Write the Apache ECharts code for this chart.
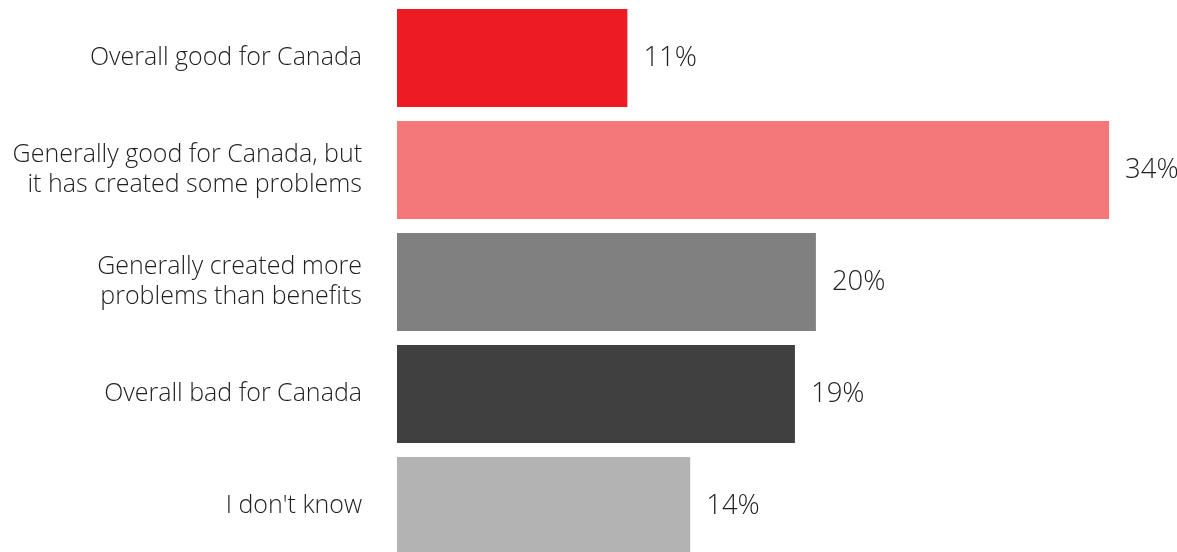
<!DOCTYPE html>
<html>
<head>
<meta charset="utf-8">
<style>
  html, body { margin: 0; padding: 0; background: #ffffff; overflow: hidden; }
  /* the last band runs a little past the bottom edge of the page */
  #chart { width: 1177px; height: 562px; }
</style>
<script src="https://cdn.jsdelivr.net/npm/echarts@6/dist/echarts.min.js"></script>
</head>
<body>
<div id="chart"></div>
<script>
// Survey responses (percent of respondents)
const categories = [
  'Overall good for Canada',
  'Generally good for Canada, but\nit has created some problems',
  'Generally created more\nproblems than benefits',
  'Overall bad for Canada',
  "I don't know"
];
const values = [11, 34, 20, 19, 14];
const barColors = ['#ED1C24', '#F4777A', '#808080', '#404040', '#B3B3B3'];

const chart = echarts.init(document.getElementById('chart'), null, { renderer: 'canvas' });

chart.setOption({
  animation: false,
  backgroundColor: '#ffffff',
  grid: { left: 397, top: 2, width: 754, height: 560, containLabel: false },
  xAxis: {
    type: 'value',
    min: 0,
    max: 36,
    show: false
  },
  yAxis: {
    type: 'category',
    data: categories,
    inverse: true,
    axisLine: { show: false },
    axisTick: { show: false },
    splitLine: { show: false },
    axisLabel: {
      margin: 35,
      align: 'right',
      fontFamily: 'Open Sans',
      fontWeight: 300,
      fontSize: 25,
      lineHeight: 30,
      color: '#1f1f1f'
    }
  },
  series: [{
    type: 'bar',
    data: values.map((v, i) => ({ value: v, itemStyle: { color: barColors[i] } })),
    barCategoryGap: '12.5%',
    label: {
      show: true,
      position: 'right',
      distance: 16,
      formatter: p => p.value + '%',
      fontFamily: 'Open Sans',
      fontWeight: 300,
      fontSize: 27.5,
      color: '#1f1f1f'
    }
  }]
});
</script>
</body>
</html>
